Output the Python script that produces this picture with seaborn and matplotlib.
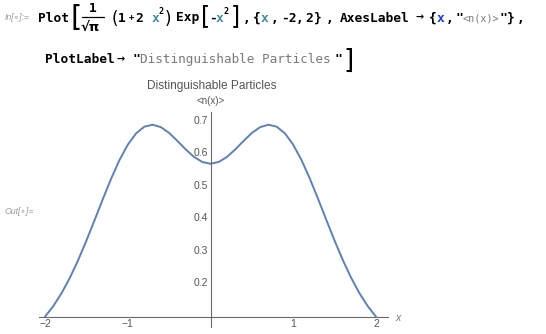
import numpy as np
import pandas as pd
import matplotlib
matplotlib.use("Agg")
import matplotlib.pyplot as plt
import seaborn as sns

# values
x_vals = [-2.0, -1.9, -1.8, -1.7, -1.6, -1.5, -1.4, -1.3, -1.2, -1.1, -1.0,
          -0.9, -0.8, -0.7, -0.6, -0.5, -0.4, -0.3, -0.2, -0.1, 0.0,
          0.1, 0.2, 0.3, 0.4, 0.5, 0.6, 0.7, 0.8, 0.9, 1.0,
          1.1, 1.2, 1.3, 1.4, 1.5, 1.6, 1.7, 1.8, 1.9, 2.0]
n_vals = [0.0930, 0.1255, 0.1653, 0.2126, 0.2669, 0.3271, 0.3910, 0.4560, 0.5187, 0.5754, 0.6227,
          0.6576, 0.6783, 0.6844, 0.6770, 0.6591, 0.6346, 0.6085, 0.5854, 0.5697, 0.5642,
          0.5697, 0.5854, 0.6085, 0.6346, 0.6591, 0.6770, 0.6844, 0.6783, 0.6576, 0.6227,
          0.5754, 0.5187, 0.4560, 0.3910, 0.3271, 0.2669, 0.2126, 0.1653, 0.1255, 0.0930]
x_ticks = [-2, -1, 1, 2]
x_ticklabels = ["\u22122", "\u22121", "1", "2"]
y_ticks = [0.2, 0.3, 0.4, 0.5, 0.6, 0.7]
y_ticklabels = ["0.2", "0.3", "0.4", "0.5", "0.6", "0.7"]
title = "Distinguishable Particles"
ylabel = "<n(x)>"
xlabel = "x"

df = pd.DataFrame({"x": x_vals, "n": n_vals})

sns.set_style("white")
plt.rcParams["font.family"] = ["Liberation Sans", "DejaVu Sans"]

W, H = 546, 334
fig = plt.figure(figsize=(W / 100, H / 100), dpi=100)

# plot geometry (pixels)
x0_px, ux = 210.5, 82.75
yax_val, yax_px, uy = 0.093, 316.7, 324.6
xlim = (-2.1, 2.2)
ylim = (0.05, 0.73)
left = x0_px + xlim[0] * ux
right = x0_px + xlim[1] * ux
top = yax_px - (ylim[1] - yax_val) * uy
bottom = yax_px + (yax_val - ylim[0]) * uy
ax = fig.add_axes([left / W, 1 - bottom / H, (right - left) / W, (bottom - top) / H])
ax.patch.set_alpha(0)

sns.lineplot(data=df, x="x", y="n", ax=ax, color="#5E81B5", linewidth=1.4)
ax.set_xlim(*xlim)
ax.set_ylim(*ylim)

axc = "#6a6a6a"
for s in ["top", "right"]:
    ax.spines[s].set_visible(False)
ax.spines["left"].set_position(("data", 0))
ax.spines["bottom"].set_position(("data", yax_val))
ax.spines["left"].set_bounds(0.061, 0.724)
ax.spines["bottom"].set_bounds(-2.07, 2.145)
for s in ["left", "bottom"]:
    ax.spines[s].set_color(axc)
    ax.spines[s].set_linewidth(0.8)

ax.set_xticks(x_ticks)
ax.set_xticklabels(x_ticklabels)
ax.set_xticks([v for v in np.round(np.arange(-2, 2.01, 0.2), 2) if abs(v - round(v)) > 1e-6], minor=True)
ax.set_yticks(y_ticks)
ax.set_yticklabels(y_ticklabels)
ax.set_yticks([v for v in np.round(np.arange(0.06, 0.72, 0.02), 2) if abs(v * 10 - round(v * 10)) > 1e-6 or round(v * 10) < 2], minor=True)
ax.tick_params(axis="both", which="major", direction="in", length=4, width=0.8,
               color=axc, labelcolor="#555555", labelsize=7.5, pad=2)
ax.tick_params(axis="both", which="minor", direction="in", length=2.2, width=0.6, color=axc)
ax.set_xlabel("")
ax.set_ylabel("")

# axis labels and title
fig.text(395 / W, 1 - 318 / H, xlabel, fontsize=7.5, style="italic", color="#777777",
         ha="left", va="center")
fig.text(211 / W, 1 - 101 / H, ylabel, fontsize=7, color="#555555", ha="center", va="center")
fig.text(211.5 / W, 1 - 86 / H, title, fontsize=8.6, color="#555555", ha="center", va="center")

# notebook input cell
mono = "DejaVu Sans Mono"
sans = "DejaVu Sans"
teal = "#3f8ea0"
blue = "#1d3cd6"
gray = "#7a7a7a"
FS = 9.3

def t(x, y, s, size=FS, color="black", weight="bold", family=mono, **kw):
    fig.text((x - 0.8) / W, 1 - y / H, s, fontsize=size, color=color, weight=weight,
             family=family, ha="left", va="baseline", **kw)

fig.text(5 / W, 1 - 17 / H, "In[\u2218]:=", fontsize=6.3, color="#9a9a9a", style="italic",
         ha="left", va="center")
fig.text(5 / W, 1 - 212 / H, "Out[\u2218]=", fontsize=6.3, color="#9a9a9a", style="italic",
         ha="left", va="center")

b1 = 21.5
t(39, b1, "Plot")
t(71, 26.5, "[", size=21, weight="normal", family=sans)
t(89.5, 12, "1")
fig.add_artist(plt.Line2D([82 / W, 104 / W], [1 - 17 / H, 1 - 17 / H], color="black", lw=0.9))
t(81.5, 32, "\u221a\u03c0", size=9.5, family=sans)
t(112, 24, "(", size=12, weight="normal", family=sans)
t(119, b1, "1")
t(130, b1 - 1, "+", size=6.5)
t(136.5, b1, "2")
t(152, b1, "x", color=teal)
t(159.5, 14.5, "2", size=6)
t(165, 24, ")", size=12, weight="normal", family=sans)
t(177, b1, "Exp")
t(201.5, 23, "[", size=17, weight="normal", family=sans)
t(210, b1, "-")
t(216.5, b1, "x", color=teal)
t(224, 14.5, "2", size=6)
t(232, 23, "]", size=17, weight="normal", family=sans)
t(243.5, b1, ",")
t(253.5, b1, "{")
t(261.5, b1, "x", color=teal)
t(271.5, b1, ",")
t(281.5, b1, "-2")
t(296.5, b1, ",")
t(306.5, b1, "2")
t(315, b1, "}")
t(326.5, b1, ",")
t(341, b1, "AxesLabel")
t(416, b1 - 1, "\u2192", size=7, family=sans)
t(430, b1, "{")
t(437, b1, "x", color=blue)
t(446.5, b1, ",")
t(456, b1, "\"")
t(463.5, b1, "<n(x)>", size=7.3, weight="normal", color=gray)
t(500, b1, "\"")
t(507.5, b1, "}")
t(518, b1, ",")

b2 = 63
t(46, b2, "PlotLabel")
t(117, b2 - 1, "\u2192", size=7, family=sans)
t(133, b2, "\"")
t(141, b2, "Distinguishable Particles", size=9.1, weight="normal", color=gray)
t(335, b2, "\"")
t(344, 68, "]", size=19, weight="normal", family=sans)

fig.savefig("out.png", dpi=100)
